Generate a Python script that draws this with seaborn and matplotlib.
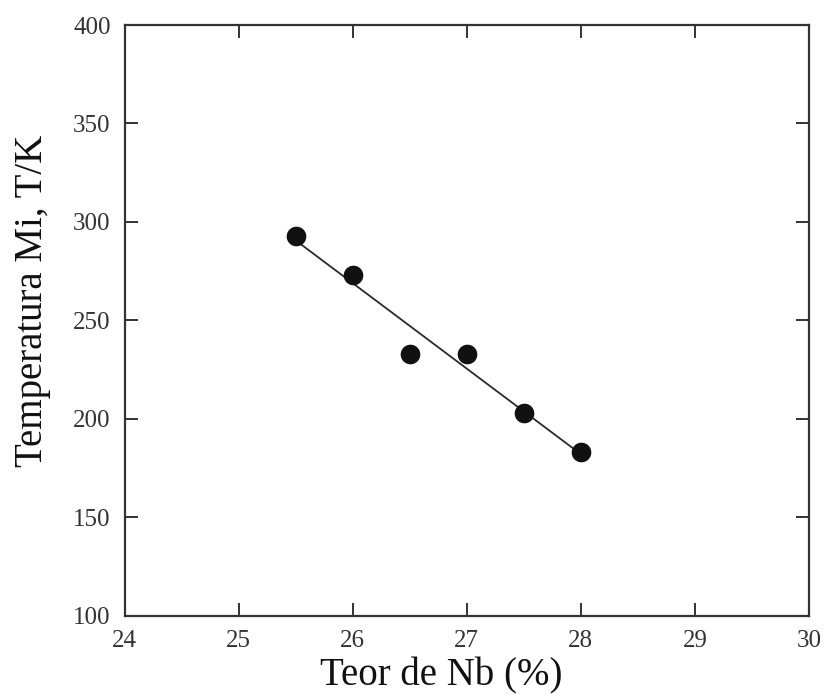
import numpy as np
import pandas as pd
import matplotlib
matplotlib.use("Agg")
import matplotlib.pyplot as plt
import seaborn as sns

nb_content = [25.5, 26.0, 26.5, 27.0, 27.5, 28.0]
temperature_mi = [293, 273, 233, 233, 203, 183]
x_ticks = [24, 25, 26, 27, 28, 29, 30]
y_ticks = [100, 150, 200, 250, 300, 350, 400]

df = pd.DataFrame({"nb": nb_content, "temp": temperature_mi})

sns.set_style("ticks")
plt.rcParams["font.family"] = ["Liberation Serif", "DejaVu Serif"]

fig = plt.figure(figsize=(8.25, 6.95), dpi=100)
ax = fig.add_axes([0.151, 0.1141, 0.8296, 0.8499])

sns.regplot(data=df, x="nb", y="temp", ax=ax, ci=None, truncate=True,
            color="black",
            scatter_kws={"s": 200, "color": "#111111", "alpha": 1.0,
                         "linewidths": 0, "zorder": 3},
            line_kws={"color": "#2a2a2a", "lw": 1.3, "zorder": 2})

ax.set_xlim(24, 30)
ax.set_ylim(100, 400)
ax.set_xticks(x_ticks)
ax.set_yticks(y_ticks)
ax.set_xticklabels([str(t) for t in x_ticks])
ax.set_yticklabels([str(t) for t in y_ticks])

for s in ax.spines.values():
    s.set_visible(True)
    s.set_linewidth(1.6)
    s.set_color("#333333")

ax.tick_params(axis="both", which="major", direction="in", length=9.5, width=1.4,
               color="#333333", labelsize=18, labelcolor="#333333",
               top=True, right=True, pad=10)

ax.set_xlabel("Teor de Nb (%)", fontsize=28, color="#111111")
ax.set_ylabel("Temperatura Mi, T/K", fontsize=28, color="#111111")
ax.xaxis.set_label_coords(0.462, -0.071)
ax.yaxis.set_label_coords(-0.108, 0.533)

fig.savefig("out.png", dpi=100)
